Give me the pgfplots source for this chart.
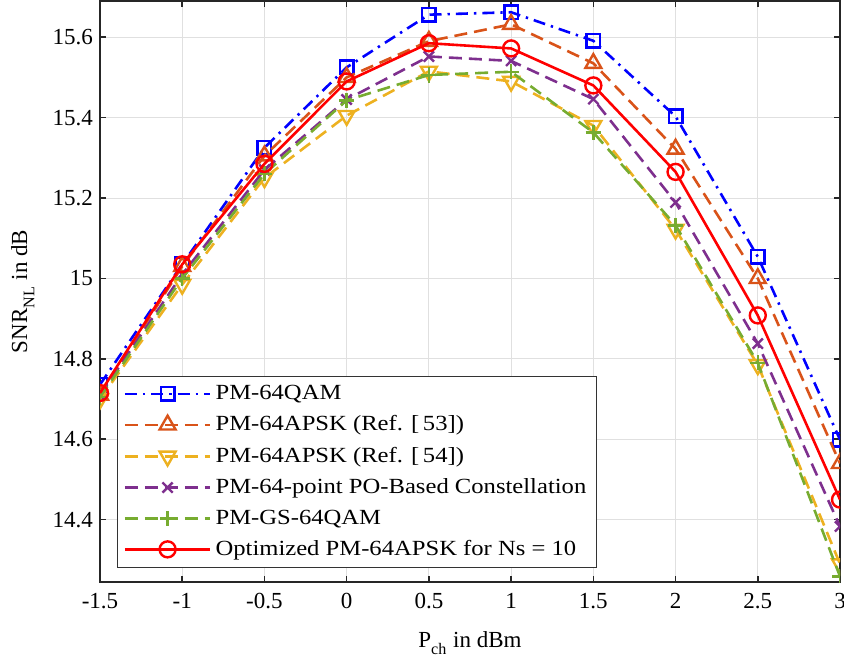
\documentclass[border=0pt]{standalone}
\usepackage{pgfplots}
\pgfplotsset{compat=1.18}
\usepackage{fontspec}
\setmainfont{Liberation Serif}
\newfontfamily\legfont[FakeStretch=1.14]{Liberation Serif}
\definecolor{mblue}{rgb}{0,0,1}
\definecolor{morange}{rgb}{0.850,0.325,0.098}
\definecolor{myellow}{rgb}{0.929,0.694,0.125}
\definecolor{mpurple}{rgb}{0.494,0.184,0.556}
\definecolor{mgreen}{rgb}{0.466,0.674,0.188}
\definecolor{mred}{rgb}{1,0,0}
\begin{document}
\begin{tikzpicture}
\begin{axis}[
  scale only axis,
  width=370pt, height=290.5pt,
  xmin=-1.5, xmax=3,
  ymin=14.245, ymax=15.69,
  xtick={-1.5,-1,-0.5,0,0.5,1,1.5,2,2.5,3},
  xticklabels={-1.5,-1,-0.5,0,0.5,1,1.5,2,2.5,3},
  ytick={14.4,14.6,14.8,15,15.2,15.4,15.6},
  yticklabels={14.4,14.6,14.8,15,15.2,15.4,15.6},
  tick align=inside,
  major tick length=3pt,
  tick style={black!85, line width=0.8pt},
  axis line style={black!85, line width=0.9pt},
  grid=major,
  grid style={black!12, line width=0.5pt},
  ticklabel style={font=\fontsize{11.5}{13}\selectfont},
  xticklabel style={yshift=-2pt},
  xlabel={P\raisebox{-0.35ex}{\textsubscript{ch}} in dBm},
  ylabel={SNR\raisebox{-0.35ex}{\textsubscript{NL}} in dB},
  label style={font=\fontsize{11.5}{13}\selectfont},
  xlabel style={at={(axis description cs:0.5,-0.1119)}, anchor=base},
  ylabel style={at={(axis description cs:-0.0986,0.5)}, anchor=base, rotate=0},
  clip marker paths=true,
  legend style={at={(rel axis cs:0.023,0.024)}, anchor=south west,
    font=\legfont\fontsize{10.8}{13.2}\selectfont, draw=black!80, line width=0.6pt,
    inner xsep=3pt, inner ysep=2.5pt, row sep=2.6pt, cells={anchor=west}},
  legend cell align=left,
  legend image code/.code={\draw[mark repeat=2,mark phase=2,#1] plot coordinates {(0cm,0cm)(0.75cm,0cm)(1.5cm,0cm)};},
  every axis plot/.append style={line width=1.3pt},
]
\addplot[color=mblue, dash pattern=on 6pt off 3pt on 1.2pt off 3pt, mark=square, mark size=3.4pt, mark options={solid, line width=1.2pt}]
coordinates {(-1.5,14.736)(-1,15.035)(-0.5,15.325)(0,15.525)(0.5,15.656)(1,15.662)(1.5,15.591)(2,15.403)(2.5,15.054)(3,14.599)};
\addlegendentry{PM-64QAM}
\addplot[color=morange, dash pattern=on 6.5pt off 3.5pt, mark=triangle, mark size=4.6pt, mark options={solid, line width=1.2pt}]
coordinates {(-1.5,14.71)(-1,15.03)(-0.5,15.305)(0,15.50)(0.5,15.59)(1,15.632)(1.5,15.535)(2,15.322)(2.5,15.0)(3,14.54)};
\addlegendentry{PM-64APSK (Ref. [\,53])}
\addplot[color=myellow, dash pattern=on 6.5pt off 3.5pt, mark=triangle, mark size=4.6pt, mark options={solid, rotate=180, line width=1.2pt}]
coordinates {(-1.5,14.70)(-1,14.985)(-0.5,15.25)(0,15.405)(0.5,15.515)(1,15.49)(1.5,15.38)(2,15.122)(2.5,14.785)(3,14.29)};
\addlegendentry{PM-64APSK (Ref. [\,54])}
\addplot[color=mpurple, dash pattern=on 6.5pt off 3.5pt, mark=x, mark size=3.6pt, mark options={solid, line width=1.2pt}]
coordinates {(-1.5,14.71)(-1,15.01)(-0.5,15.27)(0,15.445)(0.5,15.552)(1,15.541)(1.5,15.446)(2,15.189)(2.5,14.838)(3,14.383)};
\addlegendentry{PM-64-point PO-Based Constellation}
\addplot[color=mgreen, dash pattern=on 6.5pt off 3.5pt, mark=+, mark size=3.8pt, mark options={solid, line width=1.2pt}]
coordinates {(-1.5,14.705)(-1,15.0)(-0.5,15.26)(0,15.443)(0.5,15.506)(1,15.514)(1.5,15.363)(2,15.132)(2.5,14.79)(3,14.259)};
\addlegendentry{PM-GS-64QAM}
\addplot[color=mred, solid, mark=o, mark size=4pt, mark options={solid, line width=1.2pt}]
coordinates {(-1.5,14.715)(-1,15.035)(-0.5,15.285)(0,15.49)(0.5,15.585)(1,15.572)(1.5,15.48)(2,15.265)(2.5,14.908)(3,14.45)};
\addlegendentry{Optimized PM-64APSK for Ns = 10}
\end{axis}
\pgfresetboundingbox
\path[use as bounding box] ([xshift=-50pt,yshift=-38.5pt]current axis.south west) rectangle ([xshift=2pt,yshift=0.5pt]current axis.north east);
\end{tikzpicture}
\end{document}
